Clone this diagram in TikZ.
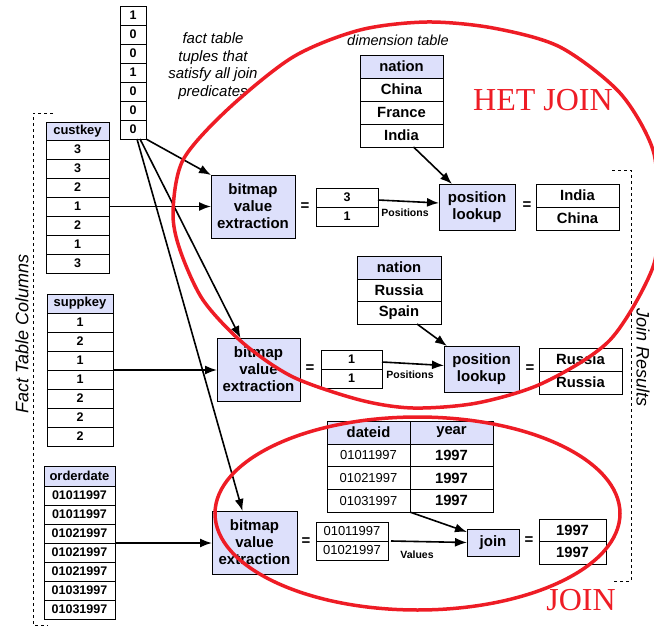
\documentclass[tikz,border=0pt]{standalone}
\usepackage{fontspec}
\setmainfont{Liberation Sans}
\newfontfamily\ringfont{Liberation Serif}
\usepackage{tikz}
\usepackage{xcolor}
\usetikzlibrary{arrows.meta,positioning}
\definecolor{lav}{HTML}{DDE0FB}
\definecolor{ringred}{HTML}{EE1C25}

\tikzset{
  cell/.style={draw, line width=0.8pt, outer sep=0pt, inner sep=0pt, minimum height=19pt, font=\bfseries\fontsize{12.5}{14}\selectfont},
  hcell/.style={cell, fill=lav, font=\bfseries\fontsize{13}{15}\selectfont},
  bigcell/.style={cell, minimum height=23pt, font=\bfseries\fontsize{14.8}{17}\selectfont},
  hbig/.style={bigcell, fill=lav},
  datecell/.style={cell, font=\fontsize{13}{15}\selectfont},
  opbox/.style={draw, line width=0.8pt, fill=lav, outer sep=0pt, inner sep=0pt, align=center, font=\bfseries\fontsize{15}{17}\selectfont},
  eq/.style={font=\bfseries\fontsize{15}{15}\selectfont},
  note/.style={font=\itshape\fontsize{15}{17.5}\selectfont, align=center},
  sidenote/.style={font=\itshape\fontsize{18}{18}\selectfont},
  tag/.style={font=\bfseries\fontsize{10.5}{12}\selectfont},
  ring/.style={draw=ringred, line width=3.5pt},
  ringtext/.style={text=ringred, font=\ringfont\fontsize{32}{32}\selectfont},
  arr/.style={-{Latex[length=12pt,width=9pt]}, line width=1.6pt},
  bracket/.style={dashed, line width=0.8pt}
}

\begin{document}
\begin{tikzpicture}[x=1pt, y=-1pt]
    \useasboundingbox (0,0) rectangle (654,629);

    % bitmap of fact table tuples
    \begin{scope}[every node/.append style={minimum width=26pt}]
    \node[cell] (bit1) at (133,15.5) {1};
    \node[cell,below=0pt of bit1] (bit2) {0}; \node[cell,below=0pt of bit2] (bit3) {0};
    \node[cell,below=0pt of bit3] (bit4) {1}; \node[cell,below=0pt of bit4] (bit5) {0};
    \node[cell,below=0pt of bit5] (bit6) {0}; \node[cell,below=0pt of bit6] (bit7) {0};
    \end{scope}
    \node[note] (tuples) at (213,66) {fact table\\tuples that\\satisfy all join\\predicates};

    % fact table columns
    \begin{scope}[every node/.append style={minimum width=63pt}]
    \node[hcell,minimum height=18pt] (cust) at (77.5,131) {custkey};
    \node[cell,below=0pt of cust] (cust1) {3}; \node[cell,below=0pt of cust1] (cust2) {3};
    \node[cell,below=0pt of cust2] (cust3) {2}; \node[cell,below=0pt of cust3] (cust4) {1};
    \node[cell,below=0pt of cust4] (cust5) {2}; \node[cell,below=0pt of cust5] (cust6) {1};
    \node[cell,below=0pt of cust6] (cust7) {3};
    \end{scope}
    \begin{scope}[every node/.append style={minimum width=66pt}]
    \node[hcell] (supp) at (80,303.5) {suppkey};
    \node[cell,below=0pt of supp] (supp1) {1}; \node[cell,below=0pt of supp1] (supp2) {2};
    \node[cell,below=0pt of supp2] (supp3) {1}; \node[cell,below=0pt of supp3] (supp4) {1};
    \node[cell,below=0pt of supp4] (supp5) {2}; \node[cell,below=0pt of supp5] (supp6) {2};
    \node[cell,below=0pt of supp6] (supp7) {2};
    \end{scope}
    \begin{scope}[every node/.append style={minimum width=71pt}]
    \node[hcell,minimum height=20pt] (ord) at (79.5,476) {orderdate};
    \node[cell,below=0pt of ord] (ord1) {01011997}; \node[cell,below=0pt of ord1] (ord2) {01011997};
    \node[cell,below=0pt of ord2] (ord3) {01021997}; \node[cell,below=0pt of ord3] (ord4) {01021997};
    \node[cell,below=0pt of ord4] (ord5) {01021997}; \node[cell,below=0pt of ord5] (ord6) {01031997};
    \node[cell,below=0pt of ord6] (ord7) {01031997};
    \end{scope}
    \draw[bracket] (53,113) -- (33,113) -- (33,625) -- (48,625);
    \node[sidenote,rotate=90] (factcols) at (22,334) {Fact Table Columns};

    % extraction boxes
    \node[opbox,minimum width=84pt,minimum height=63pt] (ext1) at (253,206.5) {bitmap\\value\\extraction};
    \node[opbox,minimum width=83pt,minimum height=63pt] (ext2) at (258.5,369.5) {bitmap\\value\\extraction};
    \node[opbox,minimum width=85pt,minimum height=63pt] (ext3) at (254.5,542.5) {bitmap\\value\\extraction};
    \node[eq] (eqa) at (305,207) {=};
    \node[eq] (eqb) at (310,369) {=};
    \node[eq] (eqc) at (306,542) {=};

    % extracted values
    \node[cell,minimum width=62pt] (posa) at (347,197.5) {3};
    \node[cell,minimum width=62pt,below=0pt of posa] (posb) {1};
    \node[cell,minimum width=61pt] (posc) at (351.5,359.5) {1};
    \node[cell,minimum width=61pt,below=0pt of posc] (posd) {1};
    \node[datecell,minimum width=72pt] (vala) at (352,531.5) {01011997};
    \node[datecell,minimum width=72pt,below=0pt of vala] (valb) {01021997};
    \node[tag] (posl1) at (405,213) {Positions};
    \node[tag] (posl2) at (410,375) {Positions};
    \node[tag] (vall) at (417,555) {Values};

    % dimension tables
    \node[note,font=\itshape\fontsize{14.5}{16}\selectfont] (dimlabel) at (398,40) {dimension table};
    \begin{scope}[every node/.append style={minimum width=83pt}]
    \node[hbig] (nat) at (401.5,66.5) {nation};
    \node[bigcell,below=0pt of nat] (nat1) {China}; \node[bigcell,below=0pt of nat1] (nat2) {France};
    \node[bigcell,below=0pt of nat2] (nat3) {India};
    \end{scope}
    \begin{scope}[every node/.append style={minimum width=84pt}]
    \node[hbig] (natb) at (399,267.5) {nation};
    \node[bigcell,minimum height=22.5pt,below=0pt of natb] (natb1) {Russia};
    \node[bigcell,minimum height=22.5pt,below=0pt of natb1] (natb2) {Spain};
    \end{scope}
    \begin{scope}[every node/.append style={minimum width=83pt}]
    \node[hbig] (dateid) at (368.5,432.5) {dateid};
    \node[hbig,right=0pt of dateid] (year) {year};
    \node[datecell,minimum height=22.7pt,below=0pt of dateid] (date1) {01011997};
    \node[datecell,minimum height=22.7pt,below=0pt of date1] (date2) {01021997};
    \node[datecell,minimum height=22.7pt,below=0pt of date2] (date3) {01031997};
    \node[bigcell,minimum height=22.7pt,below=0pt of year] (year1) {1997};
    \node[bigcell,minimum height=22.7pt,below=0pt of year1] (year2) {1997};
    \node[bigcell,minimum height=22.7pt,below=0pt of year2] (year3) {1997};
    \end{scope}

    % lookups and joins
    \node[opbox,minimum width=76pt,minimum height=46pt] (look1) at (477,207) {position\\lookup};
    \node[opbox,minimum width=75pt,minimum height=46pt] (look2) at (481.5,369) {position\\lookup};
    \node[opbox,minimum width=52pt,minimum height=27pt] (join) at (493,542.5) {join};
    \node[eq] (eqd) at (527,206) {=};
    \node[eq] (eqe) at (530,369) {=};
    \node[eq] (eqf) at (529,541) {=};

    % join results
    \node[bigcell,minimum width=83pt] (resa) at (577.5,195.5) {India};
    \node[bigcell,minimum width=83pt,below=0pt of resa] (resb) {China};
    \node[bigcell,minimum width=83pt] (resc) at (580.5,359.5) {Russia};
    \node[bigcell,minimum width=83pt,below=0pt of resc] (resd) {Russia};
    \node[bigcell,minimum width=67pt,minimum height=22.5pt] (rese) at (572.5,530.25) {1997};
    \node[bigcell,minimum width=67pt,minimum height=22.5pt,below=0pt of rese] (resf) {1997};
    \draw[bracket] (612,170) -- (631,170) -- (631,581) -- (612,581);
    \node[sidenote,rotate=-90] (joinres) at (643,358) {Join Results};

    % connectors
    \draw[arr] (bit7.south east) -- (ext1.north west);
    \draw[arr] ([xshift=7pt]bit7.south) -- ([xshift=-18pt]ext2.north);
    \draw[arr] ([xshift=4pt]bit7.south) -- ([xshift=-12pt]ext3.north);
    \draw[arr] (cust4.east) -- (ext1.west);
    \draw[arr] (supp3.south east) -- (supp3.south east -| ext2.west);
    \draw[arr] (ord3.south east) -- (ord3.south east -| ext3.west);
    \draw[arr] ([yshift=7pt]posa.south east) -- ([yshift=4pt]look1.west);
    \draw[arr] ([yshift=7pt]posc.south east) -- ([yshift=3.5pt]look2.west);
    \draw[arr] ([xshift=3pt]vala.south east) -- (join.west);
    \draw[arr] ([xshift=12pt]nat3.south) -- ([xshift=13pt]look1.north west);
    \draw[arr] ([xshift=18pt]natb2.south) -- ([xshift=3pt]look2.north west);
    \draw[arr] (date3.south east) -- ([yshift=-3pt]join.north west);

    % red rings
    \draw[ring] plot[smooth cycle] coordinates {(173,212) (183,160) (227,110) (293,57) (360,30) (427,22) (493,28) (560,47) (620,93) (653,150) (657,210) (653,267) (610,340) (543,383) (477,403) (413,408) (360,400) (293,377) (243,343) (203,300) (180,250)};
    \draw[ring] (417.5,513.5) ellipse [x radius=202.5, y radius=96.5];
    \node[ringtext] (hetjoin) at (543,100) {HET JOIN};
    \node[ringtext] (plainjoin) at (581,600) {JOIN};
  \end{tikzpicture}
\end{document}
